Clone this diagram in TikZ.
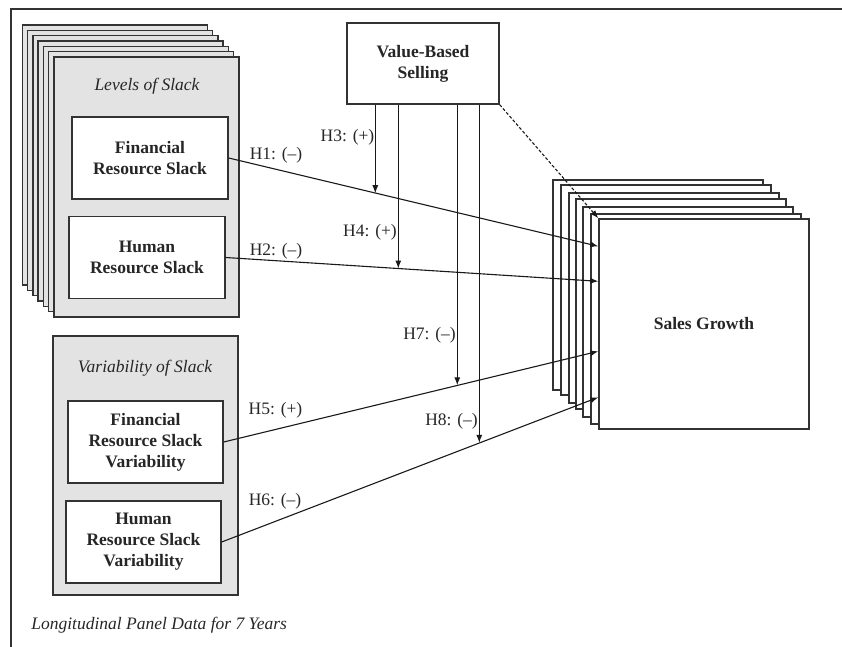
\documentclass[tikz,border=0pt]{standalone}
\usepackage{fontspec}
\setmainfont{Liberation Serif}
\usetikzlibrary{calc,arrows.meta}

\begin{document}
\begin{tikzpicture}[x=0.5pt,y=-0.5pt,
    txt/.style={font=\fontsize{8.75}{10.5}\selectfont, text=black!85, inner sep=0pt},
    panel/.style={draw=black!80, line width=0.7pt, fill=gray!22},
    sheet/.style={draw=black!80, line width=0.7pt, fill=white},
    var/.style={sheet, txt, font=\fontsize{8.75}{10.5}\selectfont\bfseries, align=center,
        minimum width=78pt, minimum height=41pt},
    link/.style={draw=black!90, line width=0.55pt, -{Latex[length=4pt,width=3pt]}}]
        \useasboundingbox (0,0) rectangle (842,647);

        % Frame
        \draw[line width=0.7pt, black!80] (842,9) -- (11,9) -- (11,647);

        % Levels of slack (stack of years)
        \foreach \k in {6,...,1}
            \draw[panel, shift={(-5.3*\k,-5.3*\k)}] (54,57) rectangle (239,317);
        \node[panel, minimum width=92.5pt, minimum height=130pt] (levels) at (146.5,187) {};
        \node[txt, font=\fontsize{8.75}{10.5}\selectfont\itshape] (levelsT) at (147,86) {Levels of Slack};
        \node[var] (frs) at (150,158) {Financial\\Resource Slack};
        \node[var] (hrs) at (147,257.5) {Human\\Resource Slack};

        % Variability of slack
        \node[panel, minimum width=92.5pt, minimum height=129.5pt] (varbox) at (145.5,465.5) {};
        \node[txt, font=\fontsize{8.75}{10.5}\selectfont\itshape] (varT) at (145,368) {Variability of Slack};
        \node[var, minimum width=77.5pt] (frsv) at (145.5,442) {Financial\\Resource Slack\\Variability};
        \node[var, minimum width=77.5pt] (hrsv) at (143.5,542) {Human\\Resource Slack\\Variability};

        % Value-based selling
        \node[var, minimum width=76pt, minimum height=40.5pt] (vbs) at (423,63.5) {Value-Based\\Selling};

        % Sales growth (stack of years)
        \foreach \dx/\dy in {46/39,38/34,30/26,23/20,16/12,8/5}
            \draw[sheet, shift={(-\dx,-\dy)}] (599,219) rectangle (809,429);
        \node[var, minimum width=105pt, minimum height=105pt] (sales) at (704,324) {Sales Growth};

        % Entry points
        \coordinate (inH1) at ($(sales.north west)+(0,28)$);
        \coordinate (inH2) at ($(sales.north west)+(0,63)$);
        \coordinate (inH5) at ($(sales.north west)+(0,133)$);
        \coordinate (inH6) at ($(sales.north west)+(0,179)$);

        % Main effects
        \draw[link] (frs.east) -- (inH1);
        \draw[link] (hrs.east) -- (inH2);
        \draw[link] (frsv.east) -- (inH5);
        \draw[link] (hrsv.east) -- (inH6);
        \draw[link, dash pattern=on 1.5pt off 1pt] (vbs.south east) -- (sales.north west);

        % Moderation
        \coordinate (t3) at ($(vbs.south west)+(29,0)$);
        \coordinate (t4) at ($(vbs.south west)+(52,0)$);
        \coordinate (t7) at ($(vbs.south west)+(111,0)$);
        \coordinate (t8) at ($(vbs.south west)+(133,0)$);
        \coordinate (p3) at ($(frs.east)!0.399!(inH1)$);
        \coordinate (p4) at ($(hrs.east)!0.465!(inH2)$);
        \coordinate (p7) at ($(frsv.east)!0.625!(inH5)$);
        \coordinate (p8) at ($(hrsv.east)!0.685!(inH6)$);
        \draw[link] (t3) -- (t3 |- p3);
        \draw[link] (t4) -- (t4 |- p4);
        \draw[link] (t7) -- (t7 |- p7);
        \draw[link] (t8) -- (t8 |- p8);

        % Hypothesis labels
        \foreach \n/\t/\x/\y in {h1/H1: (--)/276/155, h2/H2: (--)/276/251,
                h3/H3: (+)/347.5/137, h4/H4: (+)/370/232,
                h5/H5: (+)/275.5/410, h6/H6: (--)/275/501,
                h7/H7: (--)/429.5/335, h8/H8: (--)/451.5/421}
            \node[txt] (\n) at (\x,\y) {\t};

        % Note
        \node[txt, font=\fontsize{8.75}{10.5}\selectfont\itshape, anchor=west] (note) at (31,625)
            {Longitudinal Panel Data for 7 Years};
    \end{tikzpicture}
\end{document}
